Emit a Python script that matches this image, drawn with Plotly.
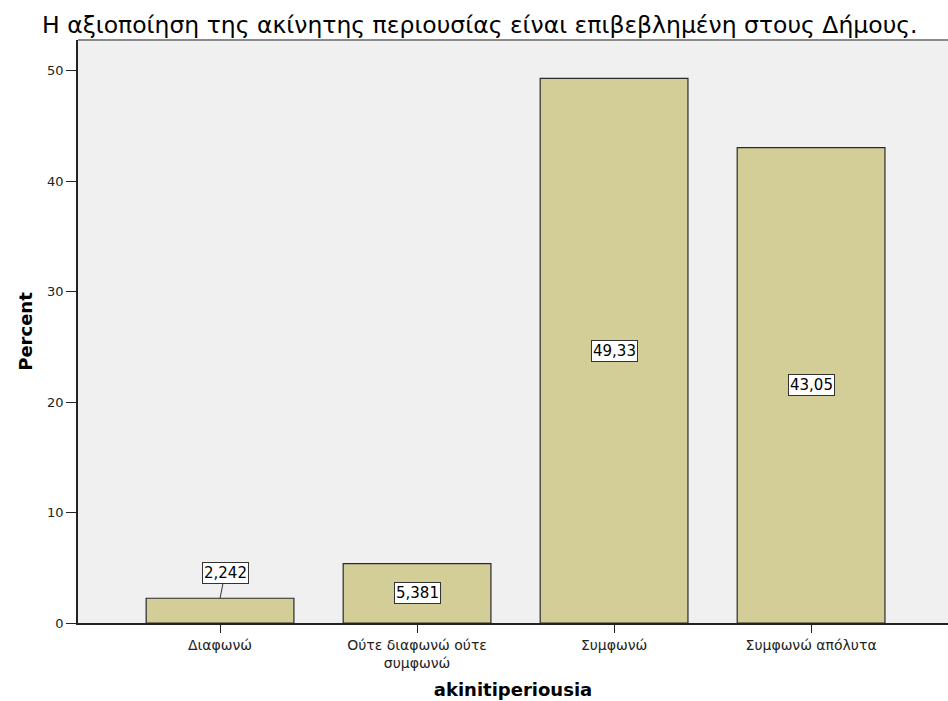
import plotly.graph_objects as go

# Response categories and their percentages
categories = ["Διαφωνώ", "Ούτε διαφωνώ ούτε<br>συμφωνώ", "Συμφωνώ", "Συμφωνώ απόλυτα"]
percent = [2.242, 5.381, 49.33, 43.05]
value_labels = ["2,242", "5,381", "49,33", "43,05"]
y_ticks = [0, 10, 20, 30, 40, 50]

positions = list(range(len(categories)))

fig = go.Figure()
fig.add_trace(go.Bar(
    x=positions,
    y=percent,
    width=0.75,
    marker=dict(color="#d3ce97", line=dict(color="#2b2b2b", width=1.2)),
    hoverinfo="skip",
))

label_font = dict(family="DejaVu Sans", size=15, color="black")

# Value labels in white boxes; the smallest bar gets its label above with a leader line
for i, (v, lab) in enumerate(zip(percent, value_labels)):
    if v < 4:
        fig.add_annotation(
            x=i, y=v, text=lab, showarrow=True, arrowhead=0, arrowwidth=1,
            arrowcolor="#333333", ax=5, ay=-25,
            bgcolor="white", bordercolor="#333333", borderwidth=1, borderpad=1,
            font=label_font,
        )
    else:
        fig.add_annotation(
            x=i, y=v / 2, text=lab, showarrow=False,
            bgcolor="white", bordercolor="#333333", borderwidth=1, borderpad=1,
            font=label_font,
        )

# Grey top frame line
fig.add_shape(type="line", xref="paper", yref="paper", x0=0, x1=1, y0=1, y1=1,
              line=dict(color="#8c8c8c", width=2))

fig.update_layout(
    width=948, height=701,
    margin=dict(l=78, r=0, t=40, b=78),
    paper_bgcolor="white",
    plot_bgcolor="#f0f0f0",
    showlegend=False,
    title=dict(
        text="Η αξιοποίηση της ακίνητης περιουσίας είναι επιβεβλημένη στους Δήμους.",
        x=42 / 948, xanchor="left", xref="container",
        y=1 - 25 / 701, yanchor="middle", yref="container",
        font=dict(family="DejaVu Sans", size=23.5, color="black"),
    ),
    xaxis=dict(
        tickmode="array", tickvals=positions, ticktext=categories,
        range=[-0.721, 3.695],
        showline=True, linecolor="#222222", linewidth=1.5,
        ticks="outside", ticklen=8, tickcolor="#222222",
        showgrid=False, zeroline=False,
        tickfont=dict(family="DejaVu Sans", size=14, color="#222222"),
        title=dict(text="<b>akinitiperiousia</b>", standoff=14,
                   font=dict(family="DejaVu Sans", size=18, color="black")),
    ),
    yaxis=dict(
        range=[0, 52.8],
        tickmode="array", tickvals=y_ticks,
        showline=True, linecolor="#222222", linewidth=1.5,
        ticks="outside", ticklen=10, tickcolor="#222222",
        showgrid=False, zeroline=False,
        tickfont=dict(family="DejaVu Sans", size=13, color="#222222"),
        title=dict(text="<b>Percent</b>", standoff=10,
                   font=dict(family="DejaVu Sans", size=18, color="black")),
    ),
)

fig.write_html("out.html")
